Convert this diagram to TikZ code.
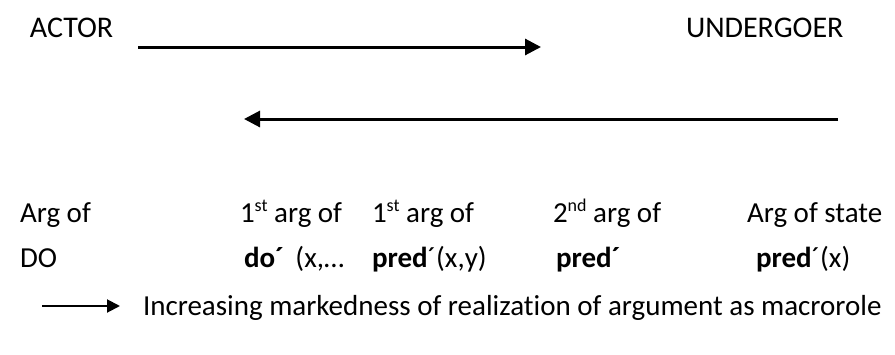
\documentclass[tikz,border=0pt]{standalone}
\usepackage{fontspec}
\setmainfont{Carlito}[Ligatures={NoCommon,NoRequired}]
\usetikzlibrary{arrows.meta}
\newcommand\supx[1]{\raisebox{0.36em}{\fontsize{18}{18}\selectfont #1}}
\tikzset{
  lbl/.style={anchor=base west, inner sep=0pt, outer sep=0pt, font=\fontsize{29}{34}\selectfont},
  toplbl/.style={lbl, font=\fontsize{30}{36}\selectfont},
  bigarrow/.style={line width=3pt, -{Triangle[length=16pt,width=16pt]}},
  smallarrow/.style={line width=2pt, -{Triangle[length=13pt,width=13pt]}}
}
\begin{document}
\begin{tikzpicture}[x=1pt,y=-1pt]
\useasboundingbox (0,0) rectangle (895,354);
\node[toplbl] (actor) at (30,37) {ACTOR};
\node[toplbl] (under) at (686,37) {UNDERGOER};
\coordinate (a1s) at (138,47);
\coordinate (a1e) at (541,47);
\draw[bigarrow] (a1s) -- (a1e);
\coordinate (a2s) at (838,119);
\coordinate (a2e) at (244,119);
\draw[bigarrow] (a2s) -- (a2e);
% row 3
\node[lbl] (r3a) at (20,222) {Arg of};
\node[lbl] (r3b) at (240,222) {1\supx{st} arg of};
\node[lbl] (r3c) at (372,222) {1\supx{st} arg of};
\node[lbl] (r3d) at (553,222) {2\supx{nd} arg of};
\node[lbl] (r3e) at (747,222) {Arg of state};
% row 4
\node[lbl] (r4a) at (20,267) {DO};
\node[lbl] (r4b) at (244,267) {\textbf{do´}\hspace{0.4em}(x,…};
\node[lbl] (r4c) at (372,267) {\textbf{pred}´(x,y)};
\node[lbl] (r4d) at (556,267) {\textbf{pred´}};
\node[lbl] (r4e) at (756,267) {\textbf{pred}´(x)};
% row 5
\coordinate (a3s) at (42,306);
\coordinate (a3e) at (120,306);
\draw[smallarrow] (a3s) -- (a3e);
\node[lbl] (legend) at (143,315) {Increasing markedness of realization of argument as macrorole};
\end{tikzpicture}
\end{document}
